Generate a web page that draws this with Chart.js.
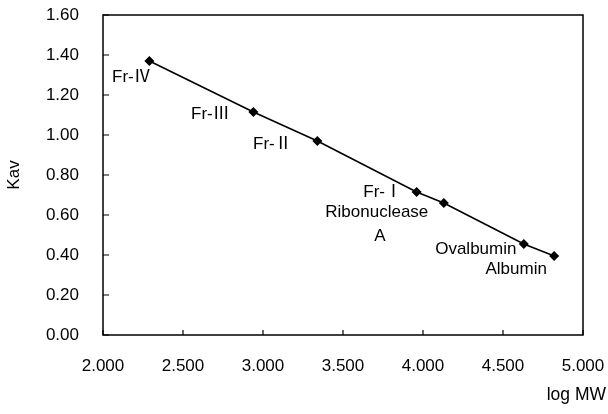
<!DOCTYPE html>
<html>
<head>
<meta charset="utf-8">
<script src="https://cdn.jsdelivr.net/npm/chart.js@4/dist/chart.umd.min.js"></script>
<style>
  html, body { margin: 0; padding: 0; background: #fff; }
  #wrap { width: 608px; height: 414px; }
</style>
</head>
<body>
<div id="wrap"><canvas id="myChart"></canvas></div>
<script>
// data
var names = ['Fr-Ⅳ', 'Fr-Ⅲ', 'Fr-Ⅱ', 'Fr-Ⅰ', ['Ribonuclease', 'A'], 'Ovalbumin', 'Albumin'];
var logMW = [2.29, 2.94, 3.34, 3.96, 4.13, 4.63, 4.82];
var kav = [1.37, 1.115, 0.97, 0.715, 0.66, 0.455, 0.395];
var xTicks = [2.0, 2.5, 3.0, 3.5, 4.0, 4.5, 5.0];
var yTicks = [0.0, 0.2, 0.4, 0.6, 0.8, 1.0, 1.2, 1.4, 1.6];

// where each label sits relative to its point (px)
var labelOffsets = [[-18, 16], [-43, 2], [-45, 3], [-34, 0], [-67, 9], [-48, 5], [-38, 13]];

var FONT = "'Liberation Sans', Arial, 'Noto Sans CJK JP', sans-serif";

const framePlugin = {
  id: 'frame',
  afterDraw(chart) {
    const ctx = chart.ctx;
    const a = chart.chartArea;
    const xs = chart.scales.x, ys = chart.scales.y;
    ctx.save();
    ctx.strokeStyle = '#000';
    ctx.lineWidth = 1.5;
    ctx.strokeRect(a.left, a.top, a.right - a.left, a.bottom - a.top);
    // inward tick marks
    ctx.lineWidth = 1.2;
    ctx.beginPath();
    xTicks.forEach(v => {
      const px = xs.getPixelForValue(v);
      ctx.moveTo(px, a.bottom);
      ctx.lineTo(px, a.bottom - 5);
    });
    yTicks.forEach(v => {
      const py = ys.getPixelForValue(v);
      ctx.moveTo(a.left, py);
      ctx.lineTo(a.left + 6, py);
    });
    ctx.stroke();

    // point labels
    ctx.fillStyle = '#000';
    ctx.font = '17px ' + FONT;
    ctx.textAlign = 'center';
    ctx.textBaseline = 'middle';
    names.forEach((n, i) => {
      const px = xs.getPixelForValue(logMW[i]) + labelOffsets[i][0];
      const py = ys.getPixelForValue(kav[i]) + labelOffsets[i][1];
      const lines = Array.isArray(n) ? n : [n];
      lines.forEach((t, j) => ctx.fillText(t, px + (j ? 3 : 0), py + j * 24));
    });

    // x axis title, right side under the axis
    ctx.font = '17.5px ' + FONT;
    ctx.textAlign = 'right';
    ctx.fillText('log MW', a.right + 23, 395);
    ctx.restore();
  }
};

const data = {
  datasets: [{
    label: 'Kav',
    data: logMW.map((x, i) => ({ x: x, y: kav[i] })),
    borderColor: '#000',
    backgroundColor: '#000',
    borderWidth: 1.6,
    pointStyle: 'rectRot',
    pointRadius: 5,
    pointBorderWidth: 0,
    showLine: true,
    tension: 0
  }]
};

const config = {
  type: 'scatter',
  data: data,
  options: {
    responsive: true,
    maintainAspectRatio: false,
    animation: false,
    layout: { padding: { left: 0, right: 25, top: 15, bottom: 0 } },
    plugins: {
      legend: { display: false },
      tooltip: { enabled: false }
    },
    scales: {
      x: {
        type: 'linear',
        min: 2,
        max: 5,
        afterBuildTicks: s => { s.ticks = xTicks.map(v => ({ value: v })); },
        afterFit: s => { s.height = 79; s.paddingLeft = 0; s.paddingRight = 0; },
        grid: { display: false },
        border: { display: false },
        ticks: {
          color: '#000',
          padding: 13,
          maxRotation: 0,
          font: { family: FONT, size: 17 },
          callback: v => Number(v).toFixed(3)
        }
      },
      y: {
        min: 0,
        max: 1.6,
        afterBuildTicks: s => { s.ticks = yTicks.map(v => ({ value: v })); },
        afterFit: s => { s.width = 103; s.paddingTop = 0; s.paddingBottom = 0; },
        grid: { display: false },
        border: { display: false },
        title: {
          display: true,
          text: 'Kav',
          color: '#000',
          padding: { top: 4, bottom: 0 },
          font: { family: FONT, size: 17 }
        },
        ticks: {
          color: '#000',
          padding: 16,
          font: { family: FONT, size: 17 },
          callback: v => Number(v).toFixed(2)
        }
      }
    }
  },
  plugins: [framePlugin]
};

const myChart = new Chart(document.getElementById('myChart'), config);
</script>
</body>
</html>
